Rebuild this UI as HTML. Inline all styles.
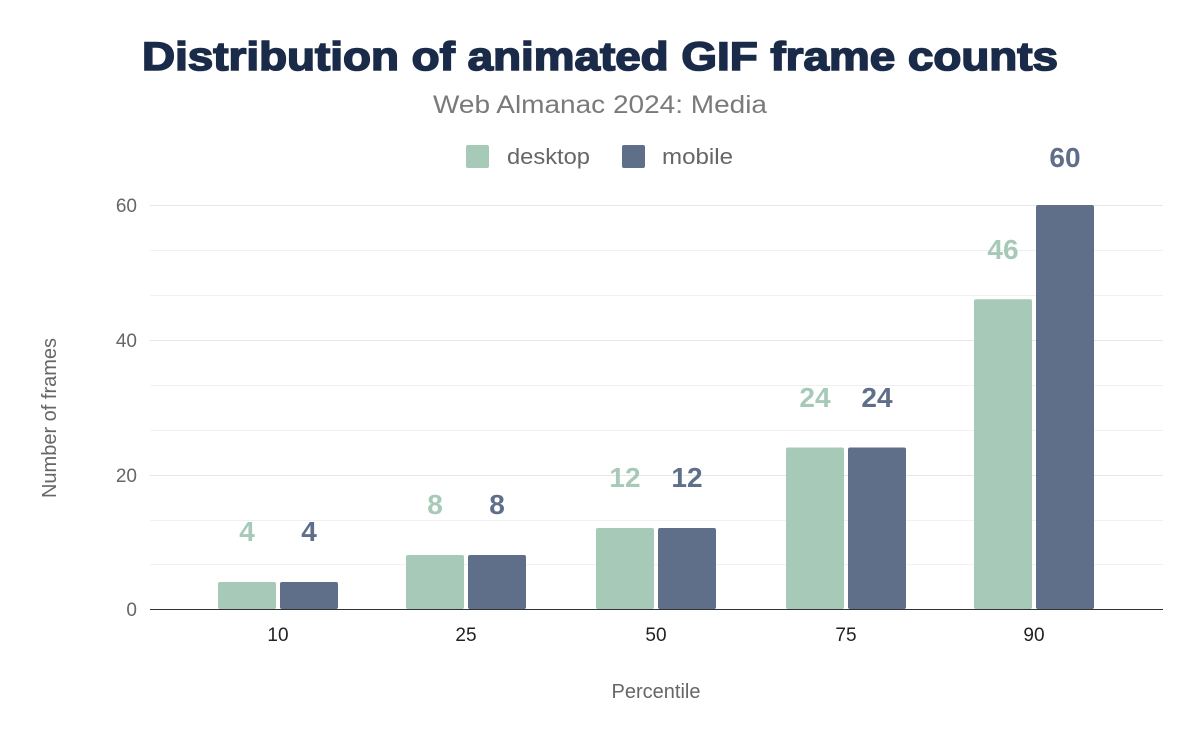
<!DOCTYPE html>
<html><head><meta charset="utf-8"><style>
html,body{margin:0;padding:0;background:#fff;}
svg{display:block;font-family:"Liberation Sans",Arial,sans-serif;}
</style></head><body>
<svg width="1200" height="742" viewBox="0 0 1200 742">
<rect width="1200" height="742" fill="#fff"/>
<text x="600" y="70" text-anchor="middle" font-size="40" font-weight="bold" fill="#1a2b49" stroke="#1a2b49" stroke-width="1.6" textLength="916" lengthAdjust="spacingAndGlyphs">Distribution of animated GIF frame counts</text>
<text x="600" y="113" text-anchor="middle" font-size="25" fill="#7a7a7a" textLength="334" lengthAdjust="spacingAndGlyphs">Web Almanac 2024: Media</text>
<rect x="466" y="145" width="23" height="23" fill="#a6c9b8" rx="2"/>
<text x="507" y="164" font-size="22" fill="#666" textLength="83" lengthAdjust="spacingAndGlyphs">desktop</text>
<rect x="622" y="145" width="23" height="23" fill="#5f6f8a" rx="2"/>
<text x="662" y="164" font-size="22" fill="#666" textLength="71" lengthAdjust="spacingAndGlyphs">mobile</text>
<g stroke="#f0f0f0" stroke-width="1">
<line x1="150" x2="1163" y1="205.5" y2="205.5" stroke="#e6e6e6"/>
<line x1="150" x2="1163" y1="250.5" y2="250.5"/>
<line x1="150" x2="1163" y1="295.5" y2="295.5"/>
<line x1="150" x2="1163" y1="340.5" y2="340.5" stroke="#e6e6e6"/>
<line x1="150" x2="1163" y1="385.5" y2="385.5"/>
<line x1="150" x2="1163" y1="430.5" y2="430.5"/>
<line x1="150" x2="1163" y1="475.5" y2="475.5" stroke="#e6e6e6"/>
<line x1="150" x2="1163" y1="520.5" y2="520.5"/>
<line x1="150" x2="1163" y1="564.5" y2="564.5"/>
</g>
<g font-size="19" fill="#666" text-anchor="end">
<text x="137" y="212">60</text>
<text x="137" y="347">40</text>
<text x="137" y="482">20</text>
<text x="137" y="616">0</text>
</g>
<text transform="translate(56,418) rotate(-90)" text-anchor="middle" font-size="20" fill="#666">Number of frames</text>
<g fill="#a6c9b8">
<rect x="218" y="582" width="58" height="27" rx="2"/>
<rect x="406" y="555" width="58" height="54" rx="2"/>
<rect x="596" y="528" width="58" height="81" rx="2"/>
<rect x="786" y="447.5" width="58" height="161.5" rx="2"/>
<rect x="974" y="299.3" width="58" height="309.7" rx="2"/>
</g>
<g fill="#5f6f8a">
<rect x="280" y="582" width="58" height="27" rx="2"/>
<rect x="468" y="555" width="58" height="54" rx="2"/>
<rect x="658" y="528" width="58" height="81" rx="2"/>
<rect x="848" y="447.5" width="58" height="161.5" rx="2"/>
<rect x="1036" y="205" width="58" height="404" rx="2"/>
</g>
<line x1="150" x2="1163" y1="609.5" y2="609.5" stroke="#333" stroke-width="1"/>
<g font-size="28" font-weight="bold" text-anchor="middle" fill="#a6c9b8">
<text x="247" y="541">4</text>
<text x="435" y="514">8</text>
<text x="625" y="487">12</text>
<text x="815" y="407">24</text>
<text x="1003" y="259">46</text>
</g>
<g font-size="28" font-weight="bold" text-anchor="middle" fill="#5f6f8a">
<text x="309" y="541">4</text>
<text x="497" y="514">8</text>
<text x="687" y="487">12</text>
<text x="877" y="407">24</text>
<text x="1065" y="167">60</text>
</g>
<g font-size="19" fill="#222" text-anchor="middle">
<text x="278" y="641">10</text>
<text x="466" y="641">25</text>
<text x="656" y="641">50</text>
<text x="846" y="641">75</text>
<text x="1034" y="641">90</text>
</g>
<text x="656" y="698" text-anchor="middle" font-size="20" fill="#666">Percentile</text>
</svg>
</body></html>
